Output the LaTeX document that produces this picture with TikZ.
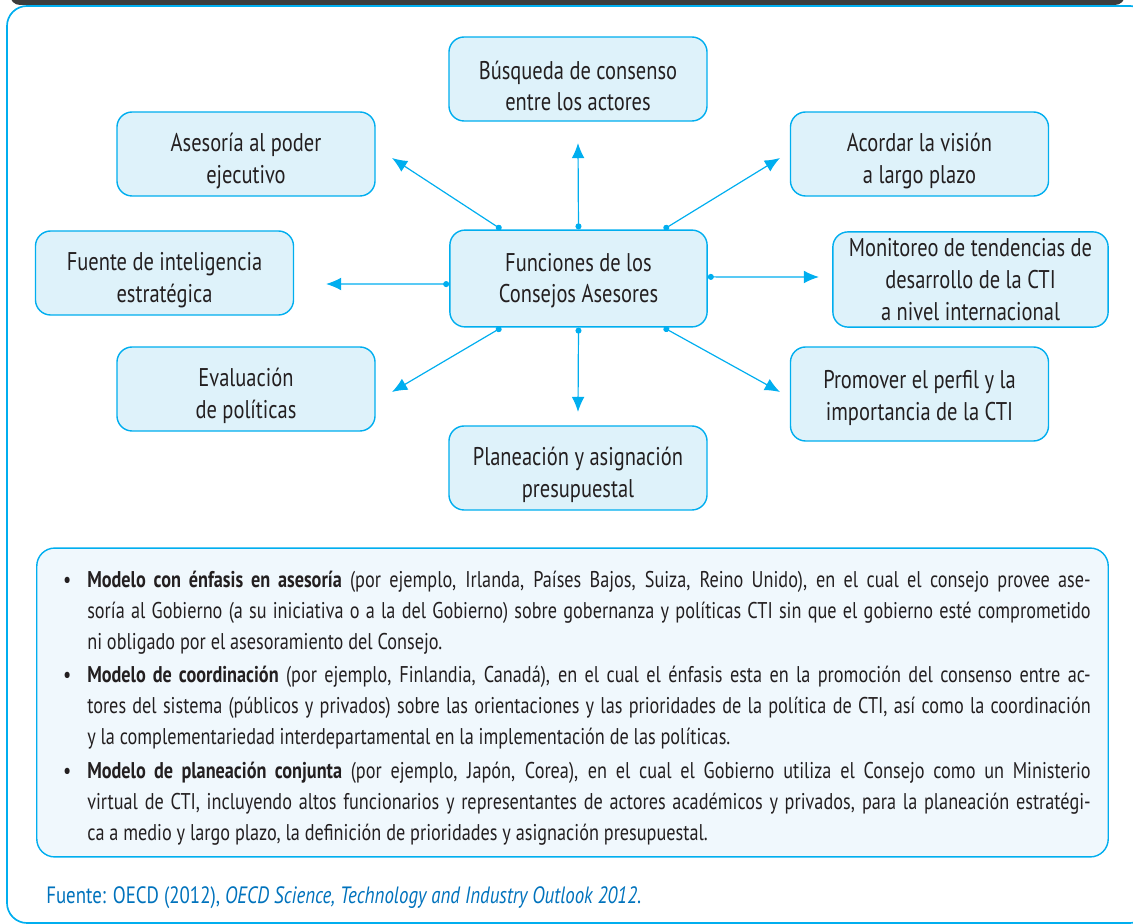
\documentclass[tikz,border=0pt]{standalone}
\usepackage{fontspec}
\setmainfont[FakeStretch=0.8]{PT Sans}
\usetikzlibrary{positioning,arrows.meta,shapes.geometric}

\definecolor{ctiblue}{RGB}{0,174,239}
\definecolor{ctifill}{RGB}{222,242,250}
\definecolor{notefill}{RGB}{240,248,253}
\definecolor{inkgray}{RGB}{35,31,32}
\definecolor{srcblue}{RGB}{0,114,188}
\definecolor{barbg}{RGB}{60,60,60}

\newcommand{\modelo}{\par\noindent\llap{\textbullet\hspace{0.4cm}}}
\newcommand{\dropto}[1][0.81cm]{\rule{0pt}{#1}}

\begin{document}
\begin{tikzpicture}[x=0.025cm, y=-0.025cm,
	func/.style={rectangle, rounded corners=0.38cm, draw=ctiblue, fill=ctifill, line width=1pt,
		minimum width=6.45cm, minimum height=2.1cm, align=center, text=inkgray,
		font=\fontsize{18.2}{22.5}\selectfont},
	link/.style={draw=ctiblue, line width=0.85pt, {Circle[length=0.15cm]}-{Latex[length=0.38cm, width=0.32cm]}},
	notebox/.style={rectangle, rounded corners=0.45cm, draw=ctiblue, fill=notefill, line width=1pt,
		minimum width=26.78cm, minimum height=7.72cm},
	notetext/.style={text width=25.08cm, align=justify, inner sep=0pt, text=inkgray,
		font=\fontsize{16.2}{22}\selectfont}]
	\useasboundingbox (0,0) rectangle (1133,924);
	% frame and top bar
	\fill[barbg, rounded corners=0.25cm] (10,-30) rectangle (1125,5);
	\draw[ctiblue, line width=1.2pt, rounded corners=0.5cm] (7,6) rectangle (1150,923);
	
	% central node and functions
	\node[func, minimum width=6.43cm, minimum height=2.42cm] (fun) at (578.5,278.5)    {\dropto[0.56cm]Funciones de los\\Consejos Asesores};
	\node[func] (busq) at (578,79)                                 {\dropto Búsqueda de consenso\\entre los actores};
	\node[func] (ases) at (246,154)                                {\dropto Asesoría al poder\\ejecutivo};
	\node[func] (acor) at (919.5,154)                              {\dropto Acordar la visión\\a largo plazo};
	\node[func] (fuen) at (164.5,273)                              {\dropto Fuente de inteligencia\\estratégica};
	\node[func, minimum width=6.88cm, minimum height=2.38cm] (moni) at (970.5,279.5) {Monitoreo de tendencias de\\desarrollo de la CTI\\a nivel internacional};
	\node[func] (eval) at (246,389)                                {\dropto Evaluación\\de políticas};
	\node[func, minimum height=2.35cm] (prom) at (919.5,394)       {\dropto[0.64cm]Promover el perfil y la\\importancia de la CTI};
	\node[func] (plan) at (578,468)                                {\dropto Planeación y asignación\\presupuestal};
	
	% arrow ends
	\coordinate (toBusq) at (578,143);
	\coordinate (toAses) at (392,158);
	\coordinate (toAcor) at (780,158);
	\coordinate (toFuen) at (326,284);
	\coordinate (toMoni) at (819,277);
	\coordinate (toEval) at (392,392);
	\coordinate (toPlan) at (578,412);
	\coordinate (toProm) at (780,392);
	
	\draw[link] (fun.north) -- (toBusq);
	\draw[link] ([xshift=-1.93cm]fun.north) -- (toAses);
	\draw[link] ([xshift=2.13cm]fun.north) -- (toAcor);
	\draw[link] ([yshift=-0.14cm]fun.west) -- (toFuen);
	\draw[link] ([yshift=0.04cm]fun.east) -- (toMoni);
	\draw[link] ([xshift=-1.93cm]fun.south) -- (toEval);
	\draw[link] (fun.south) -- (toPlan);
	\draw[link] ([xshift=2.13cm]fun.south) -- (toProm);
	
	% models
	\node[notebox] (notes) at (572.5,702.5) {};
	\node[notetext, anchor=north west] (models) at (87,556) {%
		\hyphenpenalty=10000 \emergencystretch=1cm
		\modelo\textbf{Modelo con énfasis en asesoría} (por ejemplo, Irlanda, Países Bajos, Suiza, Reino Unido), en el cual el consejo provee ase-\linebreak soría al Gobierno (a su iniciativa o a la del Gobierno) sobre gobernanza y políticas CTI sin que el gobierno esté comprometido\linebreak ni obligado por el asesoramiento del Consejo.\par\vspace{2pt}
		\modelo\textbf{Modelo de coordinación} (por ejemplo, Finlandia, Canadá), en el cual el énfasis esta en la promoción del consenso entre ac-\linebreak tores del sistema (públicos y privados) sobre las orientaciones y las prioridades de la política de CTI, así como la coordinación\linebreak y la complementariedad interdepartamental en la implementación de las políticas.\par\vspace{2pt}
		\modelo\textbf{Modelo de planeación conjunta} (por ejemplo, Japón, Corea), en el cual el Gobierno utiliza el Consejo como un Ministerio\linebreak virtual de CTI, incluyendo altos funcionarios y representantes de actores académicos y privados, para la planeación estratégi-\linebreak ca a medio y largo plazo, la definición de prioridades y asignación presupuestal.};
	
	% source
	\node[anchor=base west, inner sep=0pt, text=srcblue, font=\fontsize{16.8}{20}\selectfont] (src) at (46,903)
		{Fuente: OECD (2012), \textit{OECD Science, Technology and Industry Outlook 2012}.};
\end{tikzpicture}
\end{document}
